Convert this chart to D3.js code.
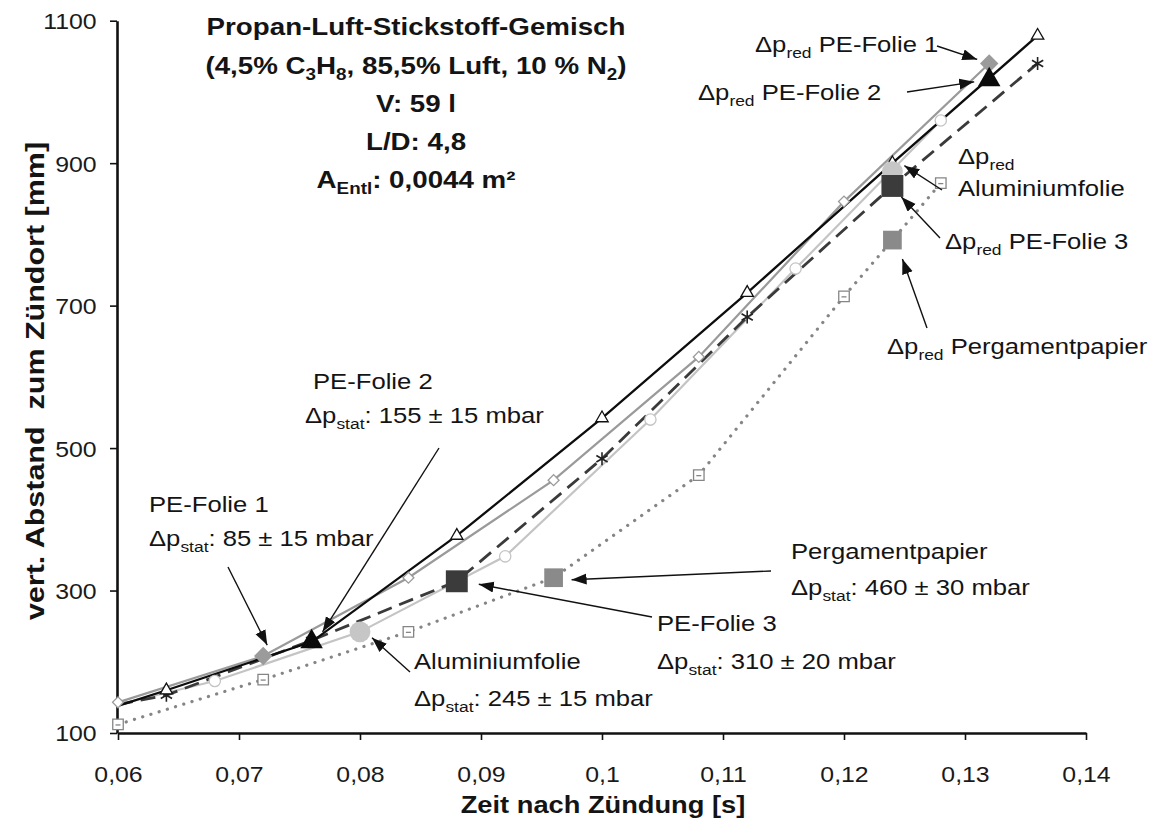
<!DOCTYPE html>
<html>
<head>
<meta charset="utf-8">
<script src="https://cdn.jsdelivr.net/npm/d3@7"></script>
<style>
  html, body { margin: 0; padding: 0; background: #fff; }
  svg { display: block; font-family: Arial, "Liberation Sans", Helvetica, sans-serif; }
  text { white-space: pre; }
</style>
</head>
<body>
<svg id="chart" width="1149" height="823"></svg>
<script>
// Axis ticks
const timeTicks = [0.06, 0.07, 0.08, 0.09, 0.1, 0.11, 0.12, 0.13, 0.14];
const distTicks = [100, 300, 500, 700, 900, 1100];

// PE-Folie 1 (grey line, diamonds)
const folie1Time = [0.06, 0.072, 0.084, 0.096, 0.108, 0.12, 0.132];
const folie1Dist = [143, 208, 318, 455, 628, 846, 1040];
// PE-Folie 2 (black line, triangles)
const folie2Time = [0.06, 0.064, 0.076, 0.088, 0.1, 0.112, 0.124, 0.136];
const folie2Dist = [138, 160, 228, 377, 542, 718, 900, 1079];
// PE-Folie 3 (dark dashed line, asterisks)
const folie3Time = [0.06, 0.064, 0.076, 0.088, 0.1, 0.112, 0.124, 0.136];
const folie3Dist = [140, 153, 230, 313, 485, 684, 868, 1040];
// Aluminiumfolie (light grey line, circles)
const aluTime = [0.06, 0.068, 0.08, 0.092, 0.104, 0.116, 0.128];
const aluDist = [140, 173, 242, 348, 540, 752, 960];
// Pergamentpapier (grey dotted line, squares)
const pergTime = [0.06, 0.072, 0.084, 0.096, 0.108, 0.12, 0.124, 0.128];
const pergDist = [112, 175, 242, 318, 462, 713, 792, 872];

// Vent opening (Δp_stat) and reduced explosion pressure (Δp_red) points
const materials = ["Aluminiumfolie", "Pergamentpapier", "PE-Folie 1", "PE-Folie 3", "PE-Folie 2"];
const statTime = [0.08, 0.096, 0.072, 0.088, 0.076];
const statDist = [242, 318, 208, 313, 228];
const redTime  = [0.124, 0.124, 0.132, 0.124, 0.132];
const redDist  = [888, 792, 1040, 868, 1017];

const svg = d3.select("#chart");
const x = d3.scaleLinear().domain([0.06, 0.14]).range([118, 1086]);
const y = d3.scaleLinear().domain([100, 1100]).range([733, 20.7]);
const comma = d => String(+d.toFixed(2)).replace(".", ",");

// ---------- axes ----------
const xAxis = svg.append("g").attr("transform", `translate(0,${y(100)})`)
  .call(d3.axisBottom(x).tickValues(timeTicks).tickSizeOuter(0).tickSizeInner(7).tickPadding(26).tickFormat(comma));
const yAxis = svg.append("g").attr("transform", `translate(${x(0.06) - 1},0)`)
  .call(d3.axisLeft(y).tickValues(distTicks).tickSizeOuter(0).tickSizeInner(7).tickPadding(11).tickFormat(d3.format("d")));
[xAxis, yAxis].forEach(a => {
  a.select(".domain").attr("stroke", "#111").attr("stroke-width", 2.6);
  a.selectAll(".tick line").attr("stroke", "#111").attr("stroke-width", 1.6);
  a.selectAll(".tick text").attr("font-size", 22).attr("fill", "#1a1a1a")
    .attr("font-family", "Arial, 'Liberation Sans', sans-serif");
});
xAxis.selectAll(".tick text").attr("transform", "scale(1.13,1)");
yAxis.selectAll(".tick text").attr("transform", "scale(1.13,1)").attr("dy", "0.36em");

// ---------- text helper (supports subscripts) ----------
function richText(parent, px, py, parts, o = {}) {
  const size = o.size || 22.5;
  const g = parent.append("g")
    .attr("transform", `translate(${px},${py})${o.rotate ? ` rotate(${o.rotate})` : ""} scale(${o.sx || 1.14},1)`);
  const t = g.append("text")
    .attr("font-size", size)
    .attr("font-weight", o.weight || "normal")
    .attr("text-anchor", o.anchor || "start")
    .attr("fill", "#141414");
  let shift = 0;
  parts.forEach(p => {
    const sub = Array.isArray(p);
    const target = sub ? 0.27 * size : 0;
    const ts = t.append("tspan").text(sub ? p[0] : p).attr("dy", target - shift);
    if (sub) ts.attr("font-size", size * 0.68);
    shift = target;
  });
  return g;
}

// axis titles
richText(svg, 603, 813, ["Zeit nach Zündung [s]"], { size: 23.5, weight: "bold", anchor: "middle", sx: 1.16 });
richText(svg, 44, 381, ["vert. Abstand  zum Zündort [mm]"], { size: 25, weight: "bold", anchor: "middle", sx: 1.22, rotate: -90 });

// ---------- series lines ----------
const line = d3.line().x(d => x(d[0])).y(d => y(d[1]));
const zip = (a, b) => a.map((v, i) => [v, b[i]]);

const series = [
  { t: pergTime,   d: pergDist,   color: "#858585", width: 3.2, dash: "0.1,8.5", cap: "round", sym: "square",   edge: true },
  { t: aluTime,    d: aluDist,    color: "#c4c4c4", width: 2.2, dash: null,      cap: "butt",  sym: "circle",   edge: false },
  { t: folie1Time, d: folie1Dist, color: "#9a9a9a", width: 2.2, dash: null,      cap: "butt",  sym: "diamond",  edge: true },
  { t: folie3Time, d: folie3Dist, color: "#3a3a3a", width: 2.8, dash: "15,8",    cap: "butt",  sym: "asterisk", edge: false },
  { t: folie2Time, d: folie2Dist, color: "#0d0d0d", width: 2.3, dash: null,      cap: "butt",  sym: "triangle", edge: false }
];

const plot = svg.append("g");
series.forEach(s => {
  plot.append("path")
    .attr("d", line(zip(s.t, s.d)))
    .attr("fill", "none")
    .attr("stroke", s.color)
    .attr("stroke-width", s.width)
    .attr("stroke-linecap", s.cap)
    .attr("stroke-dasharray", s.dash);
});

// ---------- open markers ----------
const asterisk = r => {
  let p = "";
  for (let k = 0; k < 3; k++) {
    const a = Math.PI / 2 + k * Math.PI / 3;
    const dx = r * Math.cos(a), dy = r * Math.sin(a);
    p += `M${-dx},${-dy}L${dx},${dy}`;
  }
  return p;
};
const openSym = {
  square:   { d: d3.symbol(d3.symbolSquare, 110)(),  rot: 0 },
  circle:   { d: d3.symbol(d3.symbolCircle, 100)(),  rot: 0 },
  diamond:  { d: d3.symbol(d3.symbolSquare, 60)(),   rot: 45 },
  triangle: { d: d3.symbol(d3.symbolTriangle, 66)(), rot: 0 },
  asterisk: { d: asterisk(6.5),                      rot: 0 }
};
series.forEach(s => {
  const pts = zip(s.t, s.d).filter((p, i) => s.edge || i > 0);
  const sym = openSym[s.sym];
  const g = plot.append("g");
  pts.forEach(p => {
    const m = g.append("g").attr("transform", `translate(${x(p[0])},${y(p[1])}) rotate(${sym.rot})`);
    m.append("path").attr("d", sym.d)
      .attr("fill", s.sym === "asterisk" ? "none" : "#fff")
      .attr("stroke", s.sym === "triangle" ? "#111" : s.sym === "asterisk" ? "#222" : s.color)
      .attr("stroke-width", s.sym === "asterisk" ? 1.6 : 1.3);
    if (s.sym === "square") {
      m.append("path").attr("d", "M-2.5,0.5H2.5").attr("stroke", s.color).attr("stroke-width", 1.3);
    }
  });
});

// ---------- filled markers (Δp_stat and Δp_red) ----------
const filledSym = {
  "Aluminiumfolie":  { d: d3.symbol(d3.symbolCircle, 340)(),   fill: "#c6c6c6", rot: 0 },
  "Pergamentpapier": { d: d3.symbol(d3.symbolSquare, 350)(),   fill: "#8a8a8a", rot: 0 },
  "PE-Folie 1":      { d: d3.symbol(d3.symbolSquare, 170)(),   fill: "#9b9b9b", rot: 45 },
  "PE-Folie 3":      { d: d3.symbol(d3.symbolSquare, 480)(),   fill: "#3b3b3b", rot: 0 },
  "PE-Folie 2":      { d: d3.symbol(d3.symbolTriangle, 220)(), fill: "#0b0b0b", rot: 0 }
};
const filled = plot.append("g");
materials.forEach((m, i) => {
  const f = filledSym[m];
  [[statTime[i], statDist[i]], [redTime[i], redDist[i]]].forEach(p => {
    filled.append("path")
      .attr("d", f.d)
      .attr("transform", `translate(${x(p[0])},${y(p[1])}) rotate(${f.rot})`)
      .attr("fill", f.fill);
  });
});

// ---------- title block ----------
const titleLines = [
  ["Propan-Luft-Stickstoff-Gemisch"],
  ["(4,5% C", ["3"], "H", ["8"], ", 85,5% Luft, 10 % N", ["2"], ")"],
  ["V: 59 l"],
  ["L/D: 4,8"],
  ["A", ["Entl"], ": 0,0044 m²"]
];
const titleBaselines = [35, 74, 112, 150, 188];
titleLines.forEach((parts, i) =>
  richText(svg, 416, titleBaselines[i], parts, { size: 23.5, weight: "bold", anchor: "middle", sx: 1.18 }));

// ---------- annotations ----------
const notes = [
  { x: 313, y: 389, parts: ["PE-Folie 2"] },
  { x: 305, y: 423, parts: ["Δp", ["stat"], ": 155 ± 15 mbar"] },
  { x: 149, y: 512, parts: ["PE-Folie 1"] },
  { x: 149, y: 546, parts: ["Δp", ["stat"], ": 85 ± 15 mbar"] },
  { x: 791, y: 559, parts: ["Pergamentpapier"] },
  { x: 791, y: 595, parts: ["Δp", ["stat"], ": 460 ± 30 mbar"] },
  { x: 657, y: 631, parts: ["PE-Folie 3"] },
  { x: 657, y: 669, parts: ["Δp", ["stat"], ": 310 ± 20 mbar"] },
  { x: 414, y: 669, parts: ["Aluminiumfolie"] },
  { x: 414, y: 706, parts: ["Δp", ["stat"], ": 245 ± 15 mbar"] },
  { x: 755, y: 52,  parts: ["Δp", ["red"], " PE-Folie 1"] },
  { x: 698, y: 100, parts: ["Δp", ["red"], " PE-Folie 2"] },
  { x: 958, y: 164, parts: ["Δp", ["red"]] },
  { x: 958, y: 196, parts: ["Aluminiumfolie"] },
  { x: 945, y: 249, parts: ["Δp", ["red"], " PE-Folie 3"] },
  { x: 887, y: 354, parts: ["Δp", ["red"], " Pergamentpapier"] }
];
notes.forEach(n => richText(svg, n.x, n.y, n.parts));

// arrows: tail in page space, tip relative to the marked data point
svg.append("defs").append("marker")
  .attr("id", "head").attr("markerUnits", "userSpaceOnUse")
  .attr("markerWidth", 16).attr("markerHeight", 12)
  .attr("refX", 15).attr("refY", 5.5).attr("orient", "auto")
  .append("path").attr("d", "M0,0L15,5.5L0,11Z").attr("fill", "#111");

const arrows = [
  { from: [228, 567], t: 0.072, d: 208,  off: [4, -11] },
  { from: [439, 448], t: 0.076, d: 228,  off: [11, -10] },
  { from: [410, 672], t: 0.08,  d: 242,  off: [12, 6] },
  { from: [652, 617], t: 0.088, d: 313,  off: [22, 3] },
  { from: [771, 571], t: 0.096, d: 318,  off: [18, 2] },
  { from: [937, 46],  t: 0.132, d: 1040, off: [-12, -4] },
  { from: [907, 92],  t: 0.132, d: 1017, off: [-15, 2] },
  { from: [942, 190], t: 0.124, d: 888,  off: [12, -6] },
  { from: [940, 238], t: 0.124, d: 868,  off: [9, 11] },
  { from: [927, 328], t: 0.124, d: 792,  off: [10, 19] }
];
arrows.forEach(a => {
  svg.append("line")
    .attr("x1", a.from[0]).attr("y1", a.from[1])
    .attr("x2", x(a.t) + a.off[0]).attr("y2", y(a.d) + a.off[1])
    .attr("stroke", "#111").attr("stroke-width", 1.4)
    .attr("marker-end", "url(#head)");
});
</script>
</body>
</html>
